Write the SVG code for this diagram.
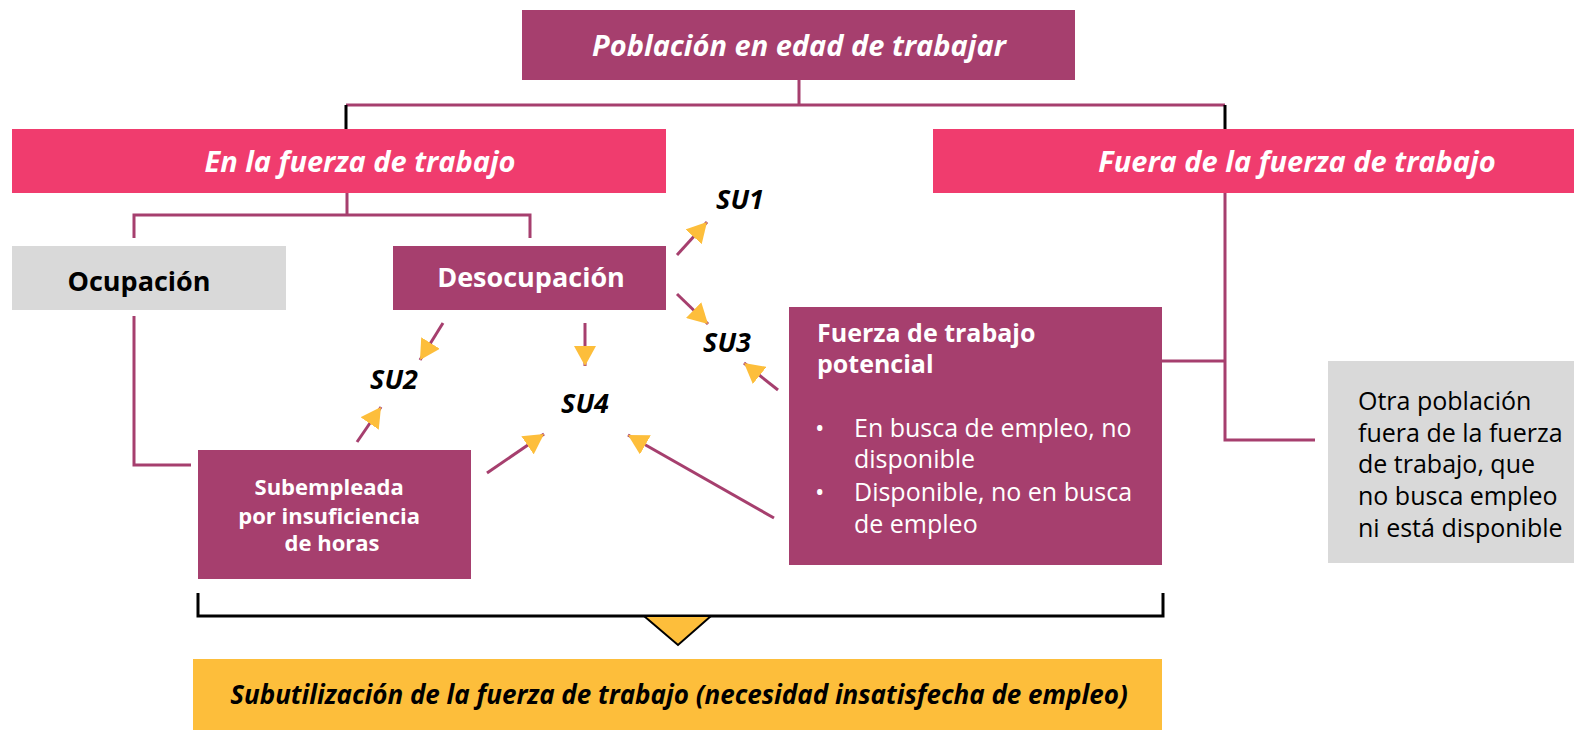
<svg xmlns="http://www.w3.org/2000/svg" width="1574" height="730" viewBox="0 0 1574 730">
<defs>
<style>
.mag{fill:#A63F6E}
.pink{fill:#F03C6E}
.gray{fill:#D9D9D9}
.yel{fill:#FDBE3B}
.t{font-family:"Open Sans","Noto Sans",sans-serif}
.hw{font-weight:700;font-style:italic;fill:#fff;text-anchor:middle}
.su{font-weight:700;font-style:italic;fill:#000;font-size:27px;text-anchor:middle}
.conn{fill:none;stroke:#A63F6E;stroke-width:3}
.blk{fill:none;stroke:#000;stroke-width:3}
.arr{fill:none;stroke:#A63F6E;stroke-width:3;marker-end:url(#ah)}
</style>
<marker id="ah" viewBox="0 0 20 22" refX="20" refY="11" markerWidth="20" markerHeight="22" markerUnits="userSpaceOnUse" orient="auto">
<path d="M0,0 L20,11 L0,22 z" fill="#FDBE3B"/>
</marker>
</defs>
<rect width="1574" height="730" fill="#fff"/>

<g id="connectors">
<path class="conn" d="M799,80 V105 M346,105 H1225"/>
<path class="blk" d="M346,105 V129 M1225,105 V129"/>
<path class="conn" d="M347,193 V215 M134,238 V215 H530 V238"/>
<path class="conn" d="M134,316 V465 H191"/>
<path class="conn" d="M1225,193 V440 H1315 M1162,361 H1225"/>
<path class="arr" d="M677,255 L707,222"/>
<path class="arr" d="M677,294 L708,324"/>
<path class="arr" d="M443,323 L420,360"/>
<path class="arr" d="M585,323 L585,366"/>
<path class="arr" d="M357,442 L381,407"/>
<path class="arr" d="M487,473 L544,434"/>
<path class="arr" d="M774,518 L628,435"/>
<path class="arr" d="M778,390 L744,363"/>
<path class="blk" d="M198,593 V616 H1163 V593"/>
<path d="M644,616 L711,616 L678,645 z" fill="#FDBE3B" stroke="#000" stroke-width="2"/>
</g>

<g id="poblacion">
<rect class="mag" x="522" y="10" width="553" height="70"/>
<text class="t hw" x="799" y="56" font-size="29">Población en edad de trabajar</text>
</g>
<g id="en-fuerza">
<rect class="pink" x="12" y="129" width="654" height="64"/>
<text class="t hw" x="360" y="172" font-size="29">En la fuerza de trabajo</text>
</g>
<g id="fuera-fuerza">
<rect class="pink" x="933" y="129" width="641" height="64"/>
<text class="t hw" x="1297" y="172" font-size="29">Fuera de la fuerza de trabajo</text>
</g>
<g id="ocupacion">
<rect class="gray" x="12" y="246" width="274" height="64"/>
<text class="t" x="139" y="291" font-size="27" font-weight="700" text-anchor="middle" fill="#000">Ocupación</text>
</g>
<g id="desocupacion">
<rect class="mag" x="393" y="246" width="273" height="64"/>
<text class="t" x="531" y="287" font-size="27" font-weight="700" text-anchor="middle" fill="#fff">Desocupación</text>
</g>
<g id="su1"><text class="t su" x="740" y="209">SU1</text></g>
<g id="su2"><text class="t su" x="394" y="389">SU2</text></g>
<g id="su3"><text class="t su" x="727" y="352">SU3</text></g>
<g id="su4"><text class="t su" x="585" y="413">SU4</text></g>
<g id="subempleada">
<rect class="mag" x="198" y="450" width="273" height="129"/>
<text class="t" font-size="22" font-weight="700" fill="#fff" text-anchor="middle">
<tspan x="332" y="495">Subempleada</tspan>
<tspan x="332" y="524">por insuficiencia</tspan>
<tspan x="332" y="551">de horas</tspan>
</text>
</g>
<g id="potencial">
<rect class="mag" x="789" y="307" width="373" height="258"/>
<text class="t" font-size="25" font-weight="700" fill="#fff">
<tspan x="817" y="342">Fuerza de trabajo</tspan>
<tspan x="817" y="373">potencial</tspan>
</text>
<text class="t" font-size="25" fill="#fff">
<tspan x="815" y="437">•</tspan>
<tspan x="854" y="437">En busca de empleo, no</tspan>
<tspan x="854" y="468">disponible</tspan>
<tspan x="815" y="501">•</tspan>
<tspan x="854" y="501">Disponible, no en busca</tspan>
<tspan x="854" y="533">de empleo</tspan>
</text>
</g>
<g id="otra">
<rect class="gray" x="1328" y="361" width="246" height="202"/>
<text class="t" font-size="25" fill="#000">
<tspan x="1358" y="410">Otra población</tspan>
<tspan x="1358" y="442">fuera de la fuerza</tspan>
<tspan x="1358" y="473">de trabajo, que</tspan>
<tspan x="1358" y="505">no busca empleo</tspan>
<tspan x="1358" y="537">ni está disponible</tspan>
</text>
</g>
<g id="subutilizacion">
<rect class="yel" x="193" y="659" width="969" height="71"/>
<text class="t" x="679" y="704" font-size="26" font-weight="700" font-style="italic" text-anchor="middle" fill="#000">Subutilización de la fuerza de trabajo (necesidad insatisfecha de empleo)</text>
</g>
</svg>
